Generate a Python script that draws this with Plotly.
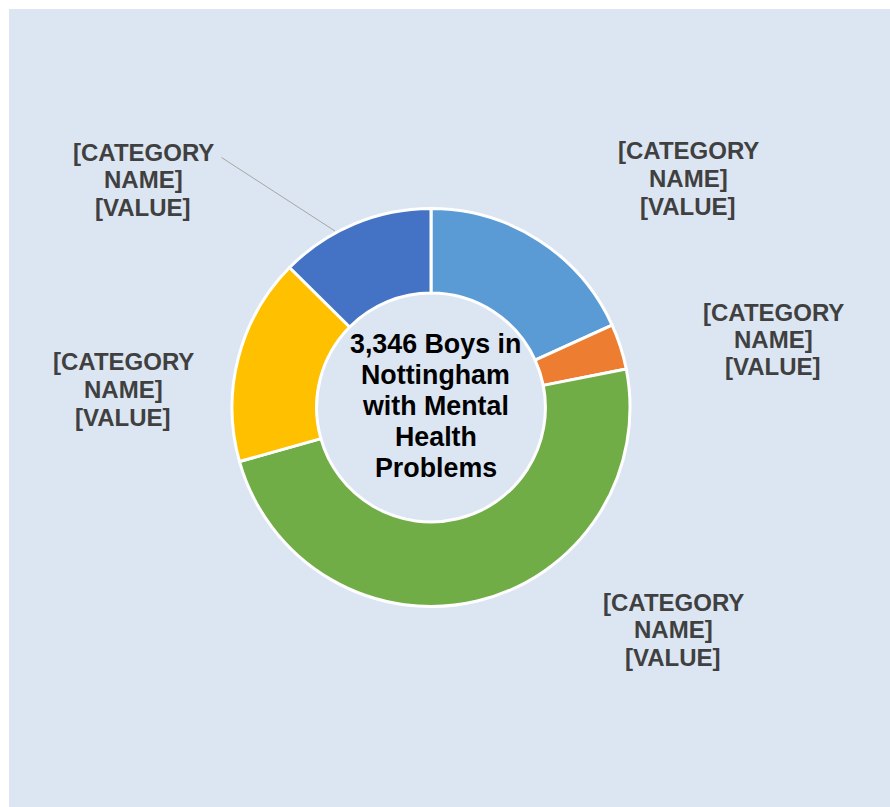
import plotly.graph_objects as go

# Donut slices, clockwise from 12 o'clock
categories = ["Group A", "Group B", "Group C", "Group D", "Group E"]
values = [609, 124, 1630, 562, 421]
colors = ["#5B9BD5", "#ED7D31", "#70AD47", "#FFC000", "#4472C4"]

# Placeholder data-label text shown beside every slice
label_lines = ["[CATEGORY", "NAME]", "[VALUE]"]

# Text in the hole
center_lines = ["3,346 Boys in", "Nottingham", "with Mental", "Health", "Problems"]

W, H = 890, 807
FONT = "Liberation Sans, Arial, sans-serif"


def px(x):
    return x / W


def py(y):
    return 1 - y / H


# Donut geometry in pixels
cx, cy, r = 431, 407.5, 199

fig = go.Figure(
    go.Pie(
        labels=categories,
        values=values,
        hole=0.575,
        sort=False,
        direction="clockwise",
        rotation=0,
        marker=dict(colors=colors, line=dict(color="white", width=3)),
        textinfo="none",
        hoverinfo="label+value+percent",
        showlegend=False,
        domain=dict(x=[px(cx - r), px(cx + r)], y=[py(cy + r), py(cy - r)]),
    )
)

annotations = []

# Data-label block anchors (centre x, first line centre y) for each slice
label_anchors = [(688, 151), (773, 312), (673, 602), (123, 362), (143, 152)]
line_gap = 27.5
for ax, ay in label_anchors:
    for i, line in enumerate(label_lines):
        annotations.append(dict(
            x=px(ax), y=py(ay + i * line_gap), xref="paper", yref="paper",
            text=f"<b>{line}</b>", showarrow=False,
            xanchor="center", yanchor="middle",
            font=dict(family=FONT, size=24, color="#404040"),
        ))

# Centre caption, one annotation per line
for i, line in enumerate(center_lines):
    annotations.append(dict(
        x=px(435.5), y=py(344 + i * 31), xref="paper", yref="paper",
        text=f"<b>{line}</b>", showarrow=False,
        xanchor="center", yanchor="middle",
        font=dict(family=FONT, size=26.8, color="#000000"),
    ))

shapes = [
    # chart-area fill
    dict(type="rect", xref="paper", yref="paper",
         x0=px(9), x1=1, y0=0, y1=py(9),
         fillcolor="#DCE6F2", line=dict(width=0), layer="below"),
    # leader line to the last slice's label
    dict(type="line", xref="paper", yref="paper",
         x0=px(221.5), y0=py(157.5), x1=px(335), y1=py(231),
         line=dict(color="#A6A6A6", width=1)),
]

fig.update_layout(
    width=W, height=H,
    margin=dict(l=0, r=0, t=0, b=0),
    paper_bgcolor="white",
    annotations=annotations,
    shapes=shapes,
)

fig.write_html("out.html")
